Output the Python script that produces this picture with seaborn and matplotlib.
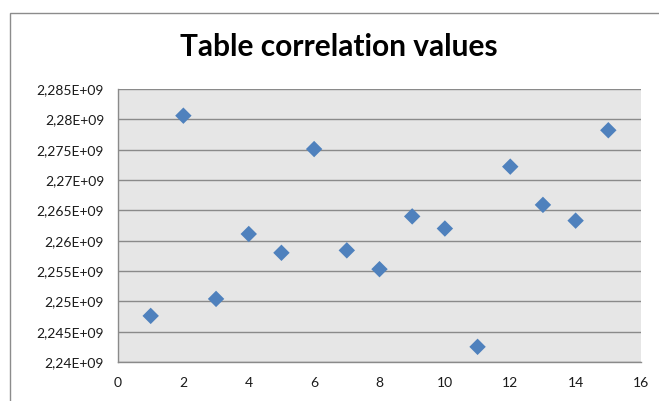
import matplotlib
matplotlib.use("Agg")
import matplotlib.pyplot as plt
import matplotlib.ticker as mticker
import seaborn as sns
import pandas as pd

# Values
x_vals = [1, 2, 3, 4, 5, 6, 7, 8, 9, 10, 11, 12, 13, 14, 15]
y_vals = [2.2476e9, 2.2806e9, 2.2504e9, 2.2611e9, 2.2580e9, 2.2751e9, 2.2584e9,
          2.2553e9, 2.2640e9, 2.2620e9, 2.2425e9, 2.2722e9, 2.2659e9, 2.2633e9, 2.2782e9]
title = "Table correlation values"

df = pd.DataFrame({"x": x_vals, "y": y_vals})

sns.set_style("white")
plt.rcParams["font.family"] = ["Lato", "DejaVu Sans"]

fig = plt.figure(figsize=(6.59, 4.01), dpi=100)
ax = fig.add_axes([118 / 659, 1 - 362 / 401, (641 - 118) / 659, (362 - 89) / 401])

# chart border (Excel chart area outline)
fig.patches.append(plt.Rectangle((10 / 659, -0.05), 1.2, 1 - 13 / 401 + 0.05,
                                 transform=fig.transFigure, fill=False,
                                 edgecolor="#8c8c8c", linewidth=1.0))

ax.set_facecolor("#e6e6e6")
sns.scatterplot(data=df, x="x", y="y", marker="D", s=70, color="#4f81bd",
                edgecolor="none", ax=ax, zorder=3)

ax.set_xlim(0, 16)
ax.set_ylim(2.24e9, 2.285e9)
ax.set_xticks(range(0, 17, 2))
ax.yaxis.set_major_locator(mticker.MultipleLocator(0.005e9))


def excel_fmt(v, pos):
    m = f"{v / 1e9:.4g}".replace(".", ",")
    return f"{m}E+09"


ax.yaxis.set_major_formatter(mticker.FuncFormatter(excel_fmt))
ax.yaxis.get_offset_text().set_visible(False)

ax.grid(axis="y", color="#8a8a8a", linewidth=1.0)
ax.set_axisbelow(True)
for side in ["top", "right"]:
    ax.spines[side].set_visible(False)
for side in ["left", "bottom"]:
    ax.spines[side].set_color("#8a8a8a")
    ax.spines[side].set_linewidth(1.0)

ax.tick_params(axis="both", direction="out", length=5, width=1, color="#8a8a8a",
               labelsize=10, labelcolor="#1a1a1a")
ax.tick_params(axis="y", pad=5)
ax.tick_params(axis="x", pad=6)
ax.set_xlabel("")
ax.set_ylabel("")

fig.text(339 / 659, 1 - 47 / 401, title, ha="center", va="center",
         fontsize=21.5, fontweight="bold", color="#000000")

fig.savefig("out.png", dpi=100)
